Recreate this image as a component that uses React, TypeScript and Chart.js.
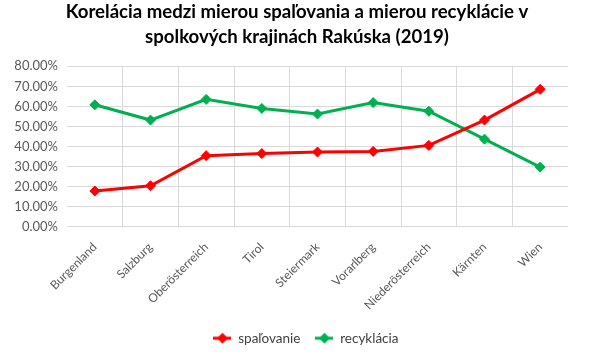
import React, { useEffect, useRef } from "react";
import { Chart, registerables } from "chart.js";

Chart.register(...registerables);

const categories = ["Burgenland", "Salzburg", "Oberösterreich", "Tirol", "Steiermark", "Vorarlberg", "Niederösterreich", "Kärnten", "Wien"];
const spalovanie = [0.179, 0.205, 0.355, 0.365, 0.373, 0.376, 0.406, 0.532, 0.685];
const recyklacia = [0.608, 0.532, 0.635, 0.59, 0.562, 0.619, 0.576, 0.437, 0.298];
const titleLines = ["Korelácia medzi mierou spaľovania a mierou recyklácie v", "spolkových krajinách Rakúska (2019)"];
const seriesNames = ["spaľovanie", "recyklácia"];
const seriesColors = ["#ff0000", "#00b050"];

const FONT = "Lato";

function legendMarker(color: string): HTMLCanvasElement {
  const c = document.createElement("canvas");
  c.width = 18;
  c.height = 12;
  const g = c.getContext("2d")!;
  g.strokeStyle = color;
  g.lineWidth = 3;
  g.beginPath();
  g.moveTo(0, 6);
  g.lineTo(18, 6);
  g.stroke();
  g.fillStyle = color;
  g.beginPath();
  g.moveTo(9, 0.5);
  g.lineTo(14.5, 6);
  g.lineTo(9, 11.5);
  g.lineTo(3.5, 6);
  g.closePath();
  g.fill();
  return c;
}

const shiftPlugin = {
  id: "shiftBoxes",
  afterLayout(chart: any) {
    if (chart.titleBlock) {
      chart.titleBlock.left += 9;
      chart.titleBlock.right += 9;
    }
    if (chart.legend) {
      chart.legend.left += 18;
      chart.legend.right += 18;
    }
  },
};

export default function App() {
  const ref = useRef<HTMLCanvasElement>(null);
  useEffect(() => {
    const ctx = ref.current!;
    const markers = seriesColors.map(legendMarker);
    const chart = new Chart(ctx, {
      type: "line",
      data: {
        labels: categories,
        datasets: [
          {
            label: seriesNames[0],
            data: spalovanie,
            borderColor: seriesColors[0],
            backgroundColor: seriesColors[0],
            borderWidth: 3,
            pointStyle: "rectRot",
            pointRadius: 5,
            pointBorderWidth: 1,
          },
          {
            label: seriesNames[1],
            data: recyklacia,
            borderColor: seriesColors[1],
            backgroundColor: seriesColors[1],
            borderWidth: 3,
            pointStyle: "rectRot",
            pointRadius: 5,
            pointBorderWidth: 1,
          },
        ],
      },
      plugins: [shiftPlugin],
      options: {
        animation: false,
        responsive: false,
        layout: { padding: { left: 8, right: 28, top: 0, bottom: 4 } },
        plugins: {
          title: {
            display: true,
            text: titleLines,
            color: "#000000",
            font: { family: FONT, size: 18.6, weight: "bold", lineHeight: 1.31 },
            padding: { top: 0, bottom: 17.5 },
          },
          legend: {
            position: "bottom",
            labels: {
              usePointStyle: true,
              pointStyleWidth: 18,
              color: "#404040",
              font: { family: FONT, size: 13.5 },
              boxHeight: 12,
              padding: 15,
              generateLabels: (ch: any) =>
                Chart.defaults.plugins.legend.labels
                  .generateLabels(ch)
                  .map((l: any, i: number) => ({ ...l, pointStyle: markers[i] })),
            },
          },
          tooltip: { enabled: false },
        },
        scales: {
          x: {
            offset: true,
            afterFit: (s: any) => {
              s.height = s.height - 9;
            },
            grid: {
              offset: true,
              color: (c: any) => (c.index === 0 || c.index === undefined ? "rgba(0,0,0,0)" : "#d9d9d9"),
              lineWidth: 1,
              drawTicks: false,
            },
            border: { display: false },
            ticks: {
              color: "#595959",
              font: { family: FONT, size: 12 },
              minRotation: 45,
              maxRotation: 45,
              autoSkip: false,
              padding: 13,
            },
          },
          y: {
            min: 0,
            max: 0.8,
            afterFit: (s: any) => {
              s.width = 59;
            },
            grid: { color: "#d9d9d9", drawTicks: false },
            border: { display: false },
            ticks: {
              stepSize: 0.1,
              color: "#595959",
              font: { family: FONT, size: 13 },
              padding: 9,
              callback: (v: any) => (Number(v) * 100).toFixed(2) + "%",
            },
          },
        },
      },
    });
    return () => chart.destroy();
  }, []);
  return (
    <div style={{ position: "fixed", left: 0, top: 0, width: 596, height: 359, background: "#fff" }}>
      <canvas ref={ref} width={596} height={359} style={{ width: 596, height: 359 }} />
    </div>
  );
}
